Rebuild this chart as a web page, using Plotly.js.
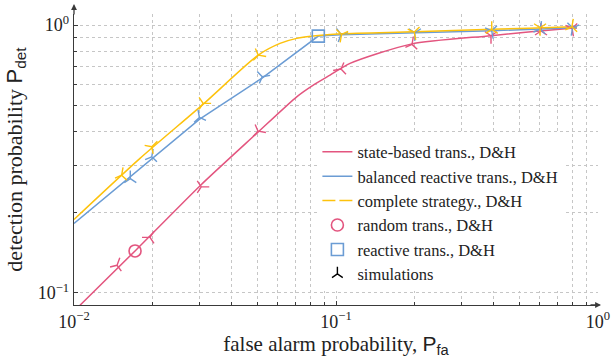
<!DOCTYPE html>
<html><head><meta charset="utf-8">
<script src="https://cdn.plot.ly/plotly-3.0.1.min.js"></script>
<style>html,body{margin:0;padding:0;background:#fff}#chart{width:611px;height:361px}</style>
</head><body><div id="chart"></div>
<script>
// analytical curves (D&H)
const stateX = [0.01054, 0.0171, 0.0303, 0.0498, 0.0708, 0.0819, 0.0949, 0.1131, 0.1933, 0.3905, 0.789, 0.8315];
const stateY = [0.0898, 0.1433, 0.2512, 0.3937, 0.5395, 0.5966, 0.650, 0.719, 0.849, 0.913, 0.974, 0.976];
const balX = [0.0100, 0.01786, 0.03008, 0.05252, 0.0856, 0.1045, 0.2002, 0.393, 0.8006, 0.8315];
const balY = [0.1814, 0.2912, 0.4442, 0.6364, 0.9096, 0.921, 0.936, 0.952, 0.977, 0.979];
const compX = [0.0100, 0.01786, 0.03114, 0.05049, 0.06112, 0.0708, 0.0856, 0.105, 0.199, 0.393, 0.795, 0.8315];
const compY = [0.1877, 0.3176, 0.5066, 0.7724, 0.854, 0.892, 0.914, 0.929, 0.944, 0.964, 0.985, 0.987];
// single operating points
const randomX = [0.0171], randomY = [0.1433];
const reactiveX = [0.0856], reactiveY = [0.9096];
// simulations
const simStateX = [0.0146, 0.0195, 0.0306, 0.0504, 0.1045, 0.195, 0.3905, 0.606, 0.796];
const simStateY = [0.1267, 0.161, 0.2486, 0.4015, 0.685, 0.847, 0.912, 0.95, 0.972];
const simBalX = [0.0164, 0.0198, 0.0301, 0.0523, 0.1045, 0.2, 0.393, 0.601, 0.80];
const simBalY = [0.267, 0.322, 0.452, 0.641, 0.923, 0.936, 0.952, 0.966, 0.977];
const simCompX = [0.0152, 0.0198, 0.0311, 0.0505, 0.105, 0.199, 0.393, 0.601, 0.795];
const simCompY = [0.275, 0.351, 0.510, 0.772, 0.923, 0.942, 0.964, 0.977, 0.985];
// ticks
const xTickVals = [0.01, 0.1, 1];
const xTickText = ['10<sup>−2</sup>', '10<sup>−1</sup>', '10<sup>0</sup>'];
const xMinorVals = [0.02,0.03,0.04,0.05,0.06,0.07,0.08,0.09,0.2,0.3,0.4,0.5,0.6,0.7,0.8,0.9];
const yTickVals = [0.1, 1];
const yTickText = ['10<sup>−1</sup>', '10<sup>0</sup>'];
const yMinorVals = [0.2,0.3,0.4,0.5,0.6,0.7,0.8,0.9];

const PINK = '#e3557f', BLUE = '#6b9cd4', YEL = '#fdc20c';
const SERIF = 'Liberation Serif';
const SANS = "'Liberation Sans'";

const simStyle = (c, ang) => ({symbol:'y-up', size:10, angle:ang, line:{color:c, width:1.4}, color:c});
const curve = c => ({color:c, width:1.5, shape:'spline', smoothing:0.7});

const traces = [
  {x:stateX, y:stateY, mode:'lines', name:'state-based trans., D&H', line:curve(PINK)},
  {x:balX, y:balY, mode:'lines', name:'balanced reactive trans., D&H', line:{color:BLUE, width:1.5}},
  {x:[null], y:[null], mode:'lines', name:'complete strategy., D&H', line:{color:YEL, width:1.5, dash:'13px,4px'}},
  {x:compX, y:compY, mode:'lines', showlegend:false, line:curve(YEL)},
  {x:randomX, y:randomY, mode:'markers', name:'random trans., D&H', marker:{symbol:'circle-open', size:12, line:{color:PINK, width:1.6}, color:PINK}},
  {x:reactiveX, y:reactiveY, mode:'markers', name:'reactive trans., D&H', marker:{symbol:'square-open', size:12, line:{color:BLUE, width:1.6}, color:BLUE}},
  {x:simStateX, y:simStateY, mode:'markers', showlegend:false, marker:simStyle(PINK, [20, 270, 90, 100, 260, 10, 180, 0, 170])},
  {x:simBalX, y:simBalY, mode:'markers', showlegend:false, marker:simStyle(BLUE, [0, 10, 350, 80, 200, 180, 170, 10, 190])},
  {x:simCompX, y:simCompY, mode:'markers', showlegend:false, marker:simStyle(YEL, [10, 45, 90, 100, 190, 170, 0, 180, 10])},
  {x:[null], y:[null], mode:'markers', name:'simulations', marker:{symbol:'y-up', size:9, line:{color:'#000', width:1.4}, color:'#000'}}
];

const axisCommon = {
  type:'log', showgrid:true, gridcolor:'#c6c6c6', griddash:'dot', gridwidth:1,
  showline:true, linecolor:'#3a3a3a', linewidth:1.3, zeroline:false,
  ticks:'inside', ticklen:4, tickcolor:'#3a3a3a', tickwidth:1,
  tickfont:{family:SERIF, size:18, color:'#222'}, automargin:false
};

const layout = {
  width:611, height:361, margin:{l:74, r:13, t:14, b:56},
  paper_bgcolor:'#fff', plot_bgcolor:'#fff', showlegend:true,
  legend:{x:0.4645, y:0.586, xanchor:'left', yanchor:'top', bgcolor:'#fff', borderwidth:0,
          font:{family:SERIF, size:16.5, color:'#222'}, tracegroupgap:0, itemwidth:30},
  xaxis:Object.assign({}, axisCommon, {
    range:[-2, 0], tickmode:'array', tickvals:xTickVals, ticktext:xTickText,
    minor:{tickvals:xMinorVals, showgrid:true, gridcolor:'#c6c6c6', griddash:'dot', ticks:'inside', ticklen:3, tickcolor:'#3a3a3a'},
    title:{text:'false alarm probability, <span style="font-family:' + SANS + '">P<sub>fa</sub></span>', font:{family:SERIF, size:21, color:'#222'}, standoff:4}
  }),
  yaxis:Object.assign({}, axisCommon, {
    range:[Math.log10(0.09), Math.log10(1.1)], tickmode:'array', tickvals:yTickVals, ticktext:yTickText,
    minor:{tickvals:yMinorVals, showgrid:true, gridcolor:'#c6c6c6', griddash:'dot', ticks:'inside', ticklen:3, tickcolor:'#3a3a3a'},
    title:{text:'detection probability <span style="font-family:' + SANS + '">P<sub>det</sub></span>', font:{family:SERIF, size:22, color:'#222'}, standoff:9}
  }),
  annotations:[
    {xref:'paper', yref:'paper', x:0, y:1.034, ax:0, ay:12, text:'', showarrow:true, arrowhead:2, arrowsize:0.9, arrowwidth:1.3, arrowcolor:'#3a3a3a', standoff:0},
    {xref:'paper', yref:'paper', x:1.0057, y:0, ax:-12, ay:0, text:'', showarrow:true, arrowhead:2, arrowsize:0.9, arrowwidth:1.3, arrowcolor:'#3a3a3a', standoff:0}
  ]
};

Plotly.newPlot('chart', traces, layout, {displayModeBar:false, staticPlot:true});
</script>
</body></html>
